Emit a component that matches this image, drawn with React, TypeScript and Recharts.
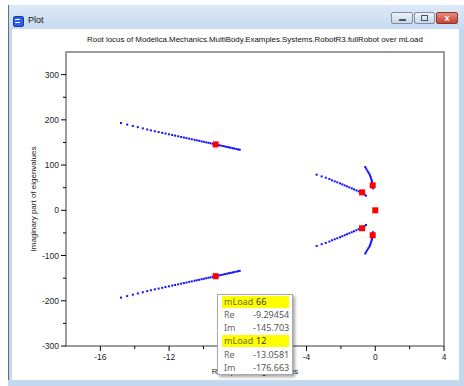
import React from "react";
import { ScatterChart, Scatter, XAxis, YAxis, ReferenceArea, Label } from "recharts";

// root locus branches (re, im)
const leftRe = [-14.8, -14.44, -14.11, -13.82, -13.53, -13.27, -13.06, -12.83, -12.61, -12.4, -12.21, -12.01, -11.82, -11.65, -11.47, -11.3, -11.14, -10.99, -10.83, -10.68, -10.52, -10.39, -10.25, -10.11, -9.98, -9.84, -9.71, -9.59, -9.46, -9.29, -9.2, -9.09, -8.97, -8.85, -8.74, -8.62, -8.51, -8.41, -8.29, -8.2, -8.08, -7.98, -7.89];
const leftUpIm = [193.0, 189.6, 186.5, 183.8, 181.1, 178.7, 176.7, 174.8, 173.0, 171.3, 169.7, 168.1, 166.5, 165.1, 163.6, 162.2, 160.9, 159.7, 158.4, 157.1, 155.8, 154.7, 153.6, 152.4, 151.4, 150.2, 149.2, 148.2, 147.1, 145.7, 144.9, 144.0, 143.0, 142.0, 141.1, 140.1, 139.1, 138.3, 137.3, 136.5, 135.5, 134.7, 133.9];
const leftLowIm = [-193.0, -189.6, -186.5, -183.8, -181.1, -178.7, -176.7, -174.8, -173.0, -171.3, -169.7, -168.1, -166.5, -165.1, -163.6, -162.2, -160.9, -159.7, -158.4, -157.1, -155.8, -154.7, -153.6, -152.4, -151.4, -150.2, -149.2, -148.2, -147.1, -145.7, -144.9, -144.0, -143.0, -142.0, -141.1, -140.1, -139.1, -138.3, -137.3, -136.5, -135.5, -134.7, -133.9];

const midRe = [-3.41, -3.12, -2.88, -2.67, -2.52, -2.36, -2.21, -2.05, -1.92, -1.78, -1.65, -1.51, -1.37, -1.24, -1.1, -0.97, -0.87, -0.77, -0.69, -0.62, -0.54];
const midUpIm = [78.7, 74.9, 72.1, 69.1, 66.2, 64.0, 61.8, 59.6, 57.3, 55.1, 52.9, 50.7, 48.5, 46.3, 44.1, 41.9, 40.8, 39.7, 37.4, 35.0, 32.4];
const midLowIm = [-78.7, -74.9, -72.1, -69.1, -66.2, -64.0, -61.8, -59.6, -57.3, -55.1, -52.9, -50.7, -48.5, -46.3, -44.1, -41.9, -40.8, -39.7, -37.4, -35.0, -32.4];

const rightRe = [-0.58, -0.53, -0.47, -0.41, -0.35, -0.31, -0.27, -0.24, -0.21, -0.19, -0.17, -0.16, -0.15, -0.14, -0.13];
const rightUpIm = [95.6, 92.0, 88.1, 84.4, 80.9, 77.2, 73.6, 69.8, 66.1, 63.2, 60.4, 57.8, 55.1, 51.8, 48.5];
const rightLowIm = [-95.6, -92.0, -88.1, -84.4, -80.9, -77.2, -73.6, -69.8, -66.1, -63.2, -60.4, -57.8, -55.1, -51.8, -48.5];

// eigenvalues at the selected mLoad
const markRe = [-9.29, -9.29, -0.77, -0.77, -0.15, -0.15, 0];
const markIm = [145.7, -145.7, 39.7, -39.7, 55.1, -55.1, 0];

const xTicks = [-16, -14, -12, -10, -8, -6, -4, -2, 0, 2, 4];
const yTicks = [-300, -250, -200, -150, -100, -50, 0, 50, 100, 150, 200, 250, 300];

const zip = (re: number[], im: number[]) => re.map((r, i) => ({ re: r, im: im[i] }));

const branches = [
  zip(leftRe, leftUpIm),
  zip(leftRe, leftLowIm),
  zip(midRe, midUpIm),
  zip(midRe, midLowIm),
  zip(rightRe, rightUpIm),
  zip(rightRe, rightLowIm),
];
const marks = zip(markRe, markIm);

const FONT = "'Liberation Sans', Arial, sans-serif";

const Dot = (p: any) => <rect x={p.cx - 1} y={p.cy - 1} width={2} height={2} fill="#1010ff" />;
const Mark = (p: any) => <rect x={p.cx - 3} y={p.cy - 3} width={6} height={6} fill="#ff0000" />;

const YTick = (p: any) => {
  const major = p.payload.value % 100 === 0;
  return (
    <g>
      <line x1={p.x} x2={p.x - (major ? 5 : 3)} y1={p.y} y2={p.y} stroke="#000" />
      {major && (
        <text x={p.x - 7} y={p.y + 3} textAnchor="end" fontSize={8.5} fontFamily={FONT} fill="#222">
          {p.payload.value}
        </text>
      )}
    </g>
  );
};

const XTick = (p: any) => {
  const major = p.payload.value % 4 === 0;
  return (
    <g>
      <line x1={p.x} x2={p.x} y1={p.y} y2={p.y + (major ? 5 : 3)} stroke="#000" />
      {major && (
        <text x={p.x} y={p.y + 14} textAnchor="middle" fontSize={8.5} fontFamily={FONT} fill="#222">
          {p.payload.value}
        </text>
      )}
    </g>
  );
};

const abs = (l: number, t: number, w: number, h: number): React.CSSProperties => ({
  position: "absolute",
  left: l,
  top: t,
  width: w,
  height: h,
});

const TipRow = ({ top, a, b, hl }: { top: number; a: string; b: string; hl?: boolean }) => (
  <div style={{ ...abs(4, top, 67, 12), background: hl ? "#ffff00" : "transparent", fontSize: 9, lineHeight: "12px" }}>
    <span style={{ position: "absolute", left: 2, color: hl ? "#6b6b2a" : "#666" }}>{a}</span>
    <span style={{ position: "absolute", left: hl ? 34 : 31, color: hl ? "#333" : "#555" }}>{b}</span>
  </div>
);

export default function App() {
  return (
    <div style={{ position: "fixed", left: 0, top: 0, width: 464, height: 386, background: "#fff", overflow: "hidden", fontFamily: FONT }}>
      {/* window frame */}
      <div style={{ ...abs(8, 5, 460, 385), background: "#c3d8ee", borderLeft: "1px solid #5f7086" }} />
      <div style={{ ...abs(9, 5, 460, 24), background: "linear-gradient(#dde9f7, #c6daf0)" }} />
      <div style={{ ...abs(13, 16, 9, 9), background: "#2f5de8", border: "1px solid #1a3aa8", borderRadius: 2 }}>
        <div style={{ ...abs(1, 2, 5, 1), background: "#fff" }} />
        <div style={{ ...abs(1, 5, 5, 1), background: "#fff" }} />
      </div>
      <div style={{ ...abs(28, 14, 60, 12), fontSize: 9, lineHeight: "12px", color: "#111" }}>Plot</div>
      <div style={{ ...abs(391, 12, 22, 12), background: "linear-gradient(#eef3f9, #c9d6e6)", border: "1px solid #7d8ea5", boxSizing: "border-box", borderRadius: 2 }}>
        <div style={{ ...abs(7, 6, 7, 2), background: "#44556d" }} />
      </div>
      <div style={{ ...abs(414, 12, 21, 12), background: "linear-gradient(#eef3f9, #c9d6e6)", border: "1px solid #7d8ea5", boxSizing: "border-box", borderRadius: 2 }}>
        <div style={{ ...abs(6, 2, 7, 6), border: "1px solid #44556d", boxSizing: "border-box" }} />
      </div>
      <div style={{ ...abs(436, 12, 22, 12), background: "linear-gradient(#e48d80, #c5402f)", border: "1px solid #86372d", boxSizing: "border-box", borderRadius: 2, color: "#fff", fontSize: 9, lineHeight: "10px", textAlign: "center", fontWeight: "bold" }}>
        x
      </div>
      <div style={{ ...abs(12, 29, 447, 351), background: "#fff" }} />

      <div style={{ ...abs(56, 34, 398, 11), fontSize: 7.9, lineHeight: "11px", textAlign: "center", color: "#111" }}>
        Root locus of Modelica.Mechanics.MultiBody.Examples.Systems.RobotR3.fullRobot over mLoad
      </div>

      <div style={{ position: "absolute", left: 0, top: 0 }}>
        <ScatterChart width={464} height={386} margin={{ top: 52, right: 20, left: 28, bottom: 10 }}>
          <XAxis
            type="number"
            dataKey="re"
            domain={[-18, 4]}
            ticks={xTicks}
            interval={0}
            allowDataOverflow
            height={30}
            tickSize={0}
            tickMargin={0}
            axisLine={false}
            tickLine={false}
            tick={<XTick />}
          >
            <Label value="Real part of eigenvalues" position="insideBottom" offset={2} fontSize={8} fill="#222" fontFamily={FONT} />
          </XAxis>
          <YAxis
            type="number"
            dataKey="im"
            domain={[-300, 350]}
            ticks={yTicks}
            interval={0}
            allowDataOverflow
            width={38}
            tickSize={0}
            tickMargin={0}
            axisLine={false}
            tickLine={false}
            tick={<YTick />}
          >
            <Label
              value="Imaginary part of eigenvalues"
              angle={-90}
              position="insideLeft"
              offset={5}
              fontSize={8}
              fill="#222"
              fontFamily={FONT}
              style={{ textAnchor: "middle" }}
            />
          </YAxis>
          <ReferenceArea x1={-18} x2={4} y1={-300} y2={350} fill="none" stroke="#7c7c7c" strokeWidth={1.5} />
          {branches.map((d, i) => (
            <Scatter key={i} data={d} shape={<Dot />} isAnimationActive={false} />
          ))}
          <Scatter data={marks} shape={<Mark />} isAnimationActive={false} />
        </ScatterChart>
      </div>

      {/* static data readout box */}
      <div style={{ ...abs(217, 294, 76, 81), background: "#fff", border: "1px solid #a9a9a9", boxSizing: "border-box", boxShadow: "2px 2px 3px rgba(0,0,0,0.35)", fontFamily: "'Noto Sans', sans-serif" }}>
        <TipRow top={1} a="mLoad" b="66" hl />
        <TipRow top={14} a="Re" b="-9.29454" />
        <TipRow top={27} a="Im" b="-145.703" />
        <TipRow top={40} a="mLoad" b="12" hl />
        <TipRow top={54} a="Re" b="-13.0581" />
        <TipRow top={67} a="Im" b="-176.663" />
      </div>

      {/* bottom frame */}
      <div style={{ ...abs(8, 380, 460, 6), background: "#c3d8ee" }} />
      <div style={{ ...abs(459, 29, 10, 352), background: "#c3d8ee" }} />
    </div>
  );
}
